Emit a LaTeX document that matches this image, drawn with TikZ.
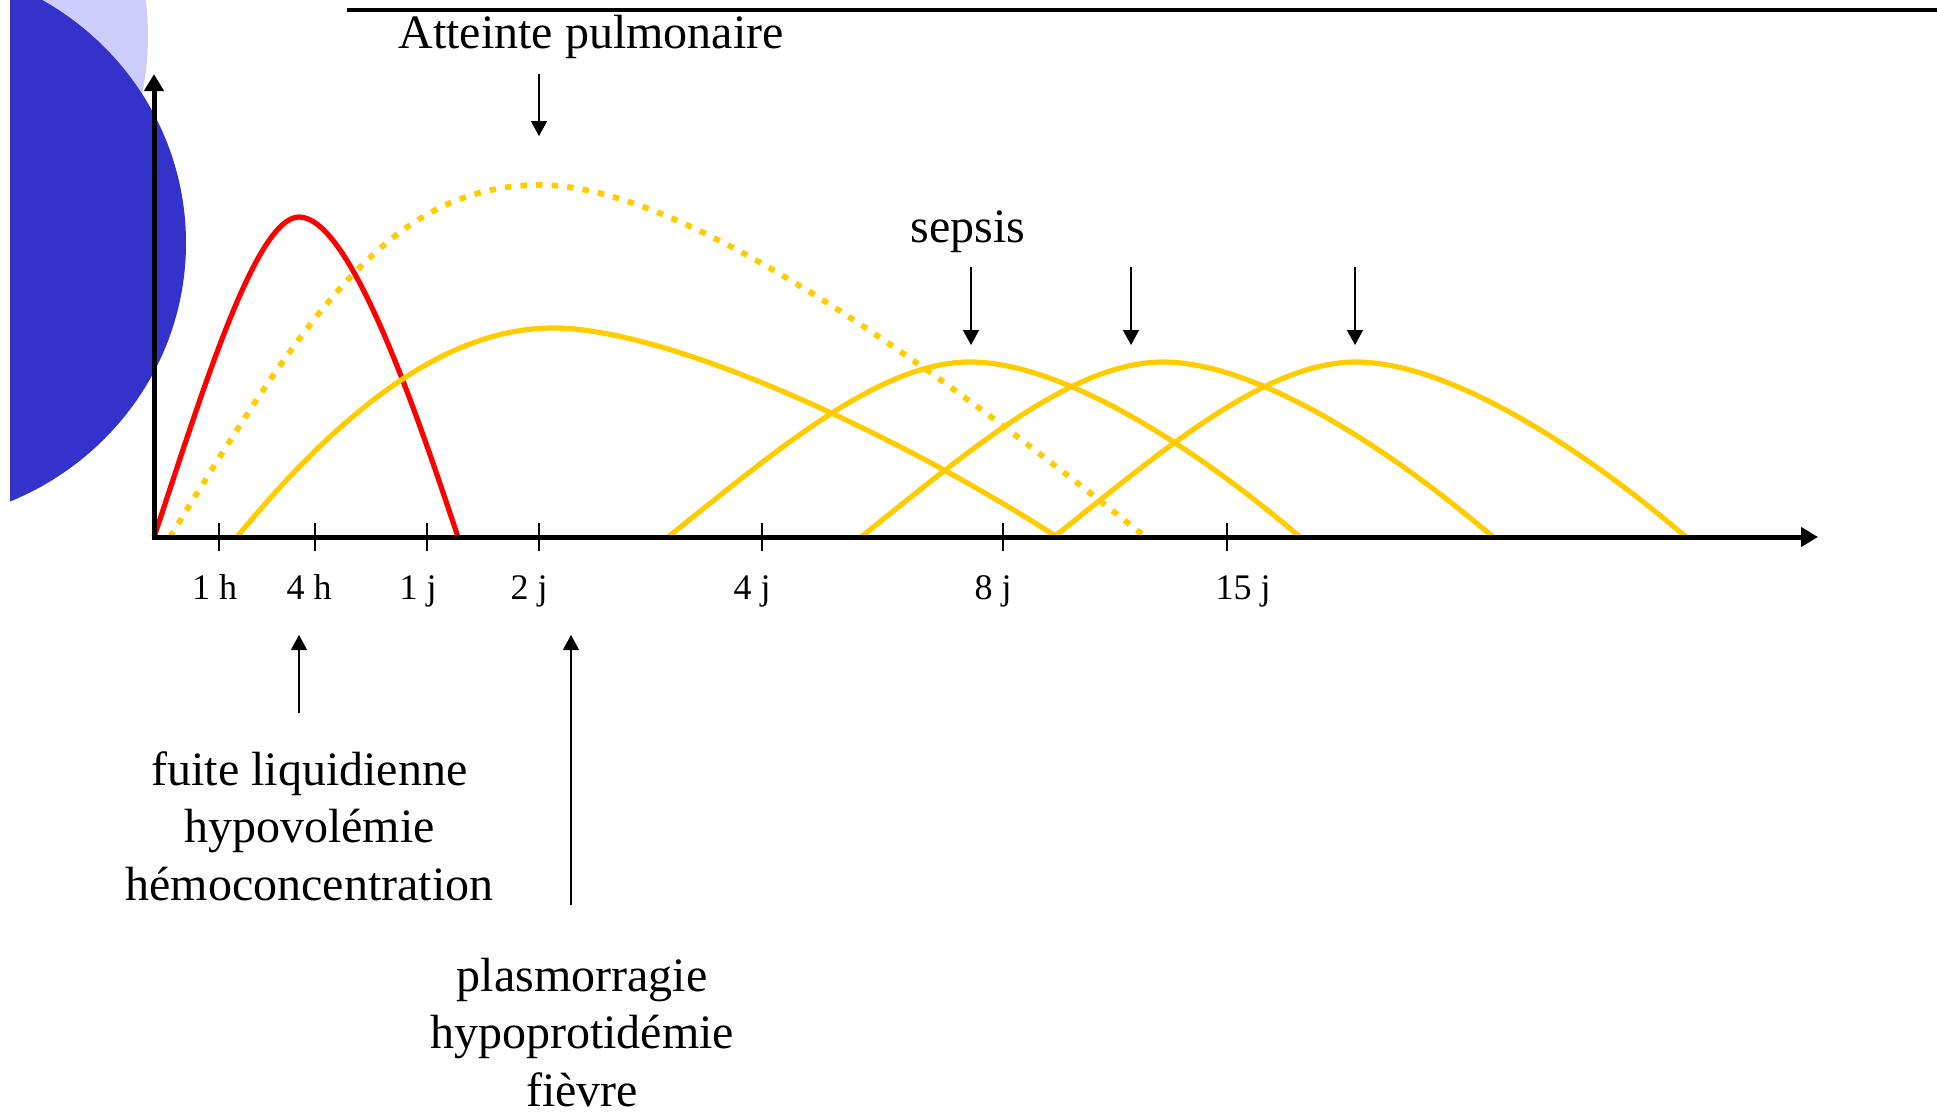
\documentclass[tikz,border=0pt]{standalone}
\usepackage{fontspec}
\setmainfont{Liberation Serif}
\usetikzlibrary{arrows.meta}
\definecolor{gold}{HTML}{FFCC00}
\definecolor{bluedark}{HTML}{3333CC}
\definecolor{bluelight}{HTML}{CCCCFF}
\begin{document}
\begin{tikzpicture}[x=0.5pt,y=-0.5pt,
  axis/.style={line width=2.5pt, line join=miter,
    arrows={Triangle[width=9.5pt,length=8.5pt]-Triangle[width=9.5pt,length=8.5pt]}},
  pointer/.style={line width=0.7pt, -{Triangle[width=8pt,length=7.5pt]}},
  tickmark/.style={line width=0.8pt},
  redcurve/.style={red, line width=2.6pt, line join=round},
  goldcurve/.style={gold, line width=2.6pt, line join=round},
  golddots/.style={gold, line width=2.9pt, dash pattern=on 3.2pt off 4.6pt},
  bigtext/.style={font=\fontsize{24}{28.75}\selectfont, inner sep=0pt, align=center},
  ticklabel/.style={font=\fontsize{18}{21.6}\selectfont, inner sep=0pt, anchor=base}
]
\useasboundingbox (0,0) rectangle (1937,1114);
% decorative circles
\begin{scope}
  \clip (10,0) rectangle (400,600);
  \fill[bluelight] (-140,36) ellipse [x radius=144pt, y radius=144pt];
  \fill[bluedark] (-100,243) ellipse [x radius=143pt, y radius=140pt];
\end{scope}
% top rule
\coordinate (rule1) at (347,10);
\coordinate (rule2) at (1937,10);
\draw[line width=2pt] (rule1) -- (rule2);
% curves
\draw[redcurve] (154,537) .. controls (200,400) and (255,217) .. (299,217)
                .. controls (350,217) and (415,408) .. (458,537);
\draw[golddots] (170,537) .. controls (308,313) and (390,185) .. (540,185)
                .. controls (690,185) and (943,375) .. (1143,535);
\draw[goldcurve] (237,537) .. controls (337,415) and (443,328) .. (553,328)
                 .. controls (673,328) and (907,440) .. (1057,537);
\foreach \s in {0,193,386}{
  \begin{scope}[shift={(\s,0)}]
    \draw[goldcurve] (668,537) .. controls (778,449) and (880,362) .. (970,362)
                     .. controls (1060,362) and (1190,443) .. (1300,537);
  \end{scope}
}
% axes
\coordinate (O) at (154,537);
\coordinate (ytip) at (154,74);
\coordinate (xtip) at (1818,537);
\draw[axis] (ytip) -- (O) -- (xtip);
% ticks and labels
\foreach \t/\lx/\txt/\nm in {219/214.5/1 h/t1h, 315/309/4 h/t4h, 427/418/1 j/t1j, 539/529/2 j/t2j, 762/752/4 j/t4j, 1003/993/8 j/t8j, 1227/1243/15 j/t15j}{
  \coordinate (\nm a) at (\t,523);
  \coordinate (\nm b) at (\t,551);
  \draw[tickmark] (\nm a) -- (\nm b);
  \node[ticklabel] (\nm) at (\lx,599) {\txt};
}
% texts
\node[bigtext, anchor=base] (atteinte) at (591,48) {Atteinte pulmonaire};
\node[bigtext, anchor=base] (sepsis) at (968,242) {sepsis};
\node[bigtext, anchor=base] (fuite) at (309.5,900) {fuite liquidienne\\hypovolémie\\hémoconcentration};
\node[bigtext, anchor=base] (plasma) at (582,1106) {plasmorragie\\hypoprotidémie\\fièvre};
% pointer arrows
\coordinate (a0s) at (539,74);  \coordinate (a0e) at (539,136);
\draw[pointer] (a0s) -- (a0e);
\coordinate (s1s) at (971,267); \coordinate (s1e) at (971,345);
\coordinate (s2s) at (1131,267); \coordinate (s2e) at (1131,345);
\coordinate (s3s) at (1355,267); \coordinate (s3e) at (1355,345);
\draw[pointer] (s1s) -- (s1e);
\draw[pointer] (s2s) -- (s2e);
\draw[pointer] (s3s) -- (s3e);
\coordinate (b1s) at (299,713); \coordinate (b1e) at (299,635);
\coordinate (b2s) at (571,905); \coordinate (b2e) at (571,635);
\draw[pointer] (b1s) -- (b1e);
\draw[pointer] (b2s) -- (b2e);
\end{tikzpicture}
\end{document}
